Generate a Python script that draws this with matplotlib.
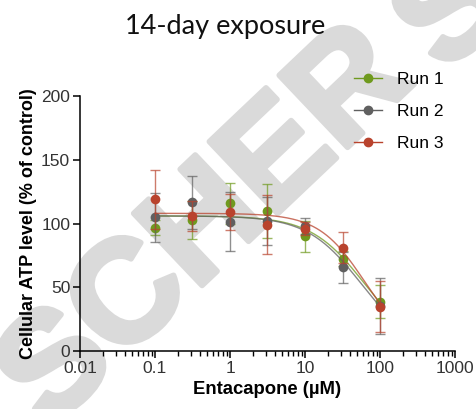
import numpy as np
import matplotlib.pyplot as plt
import matplotlib.patheffects as pe

# concentrations (uM) and mean +/- error for each run
conc = [0.1, 0.316, 1, 3.16, 10, 31.6, 100]
run1 = [96.7, 102.7, 115.8, 110, 90, 72.4, 38.7]
run1_err = [6, 15, 16, 21, 12, 6, 13]
run2 = [104.8, 116.6, 101.4, 102, 98, 65.6, 35.3]
run2_err = [19, 21, 23, 19, 6, 12, 22]
run3 = [119, 106, 109, 99, 96, 81, 34.5]
run3_err = [23, 12, 14, 23, 5, 12, 20]

# fitted curve parameters (top, IC50, hill)
fit1 = [106, 61.8, 1.21]
fit2 = [106, 55.7, 1.21]
fit3 = [108, 63.0, 1.41]

labels = ['Run 1', 'Run 2', 'Run 3']
colors = ['#6f9a1e', '#606060', '#b9432d']

plt.rcParams['font.family'] = ['Liberation Sans', 'DejaVu Sans']

fig = plt.figure(figsize=(4.76, 4.09), dpi=100)

# watermark, sits behind the plot
wm = dict(fontsize=104, fontweight='bold', color='#dadada', rotation=43.5,
          ha='center', va='center', zorder=-5,
          path_effects=[pe.withStroke(linewidth=4, foreground='#dadada')])
fig.text(0.435, 0.44, 'SCHER', **wm)
fig.text(0.955, 0.965, 'S', **wm)

ax = fig.add_axes([0.168, 0.142, 0.788, 0.623])
ax.patch.set_alpha(0)

xs = np.logspace(-1, 2, 200)
for y, e, p, lab, c in zip([run1, run2, run3], [run1_err, run2_err, run3_err],
                           [fit1, fit2, fit3], labels, colors):
    top, ic50, h = p
    ax.plot(xs, top / (1 + (xs / ic50) ** h), color=c, lw=1.0, alpha=0.75)
    ax.errorbar(conc, y, yerr=e, fmt='none', ecolor=c, elinewidth=1.0,
                capsize=3.8, capthick=1.0, alpha=0.7)
    ax.plot(conc, y, 'o', color=c, ms=7, mec='none')
    ax.plot([], [], '-o', color=c, ms=6, lw=1.0, label=lab)

ax.set_xscale('log')
ax.set_xlim(0.01, 1000)
ax.set_ylim(0, 200)
ax.set_yticks([0, 50, 100, 150, 200])
ax.set_xticks([0.01, 0.1, 1, 10, 100, 1000])
ax.set_xticklabels(['0.01', '0.1', '1', '10', '100', '1000'])
for s in ['top', 'right']:
    ax.spines[s].set_visible(False)
for s in ['left', 'bottom']:
    ax.spines[s].set_linewidth(1.1)
ax.tick_params(axis='both', which='major', direction='out', length=5, width=1.1,
               labelsize=12.5, labelcolor='#333333', pad=2)
ax.tick_params(axis='x', which='minor', direction='out', length=3.5, width=1.0)

ax.set_xlabel('Entacapone (\u00b5M)', fontsize=13.3, fontweight='bold', labelpad=4)
ax.set_ylabel('Cellular ATP level (% of control)', fontsize=13, fontweight='bold',
              labelpad=3)

leg = ax.legend(loc='upper left', bbox_to_anchor=(0.69, 1.155), frameon=False,
                fontsize=12.5, handlelength=1.6, handletextpad=0.85,
                labelspacing=0.95)

fig.text(0.473, 0.935, '14-day exposure', fontsize=19.5, family='Lato',
         ha='center', va='center', color='#111111')

plt.savefig('out.png', dpi=100)
